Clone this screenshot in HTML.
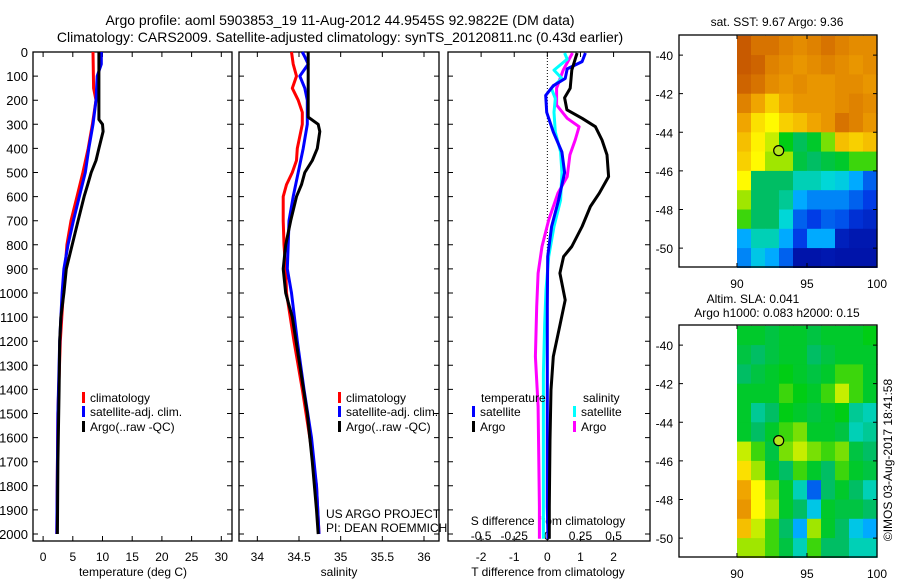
<!DOCTYPE html>
<html><head><meta charset="utf-8"><style>
html,body{margin:0;padding:0;background:#fff;}
svg{display:block;font-family:"Liberation Sans",sans-serif;}
</style></head><body>
<svg id="fig" width="900" height="580" viewBox="0 0 900 580" xmlns="http://www.w3.org/2000/svg">
<text x="340" y="25" font-size="14" text-anchor="middle">Argo profile: aoml 5903853_19 11-Aug-2012 44.9545S 92.9822E (DM data)</text>
<text x="340" y="42" font-size="14" text-anchor="middle">Climatology: CARS2009. Satellite-adjusted climatology: synTS_20120811.nc (0.43d earlier)</text>
<text x="777" y="26" font-size="12" text-anchor="middle">sat. SST: 9.67 Argo: 9.36</text>
<text x="753" y="303" font-size="12" text-anchor="middle">Altim. SLA: 0.041</text>
<text x="777" y="317" font-size="12" text-anchor="middle">Argo h1000: 0.083 h2000: 0.15</text>
<text transform="translate(892,460) rotate(-90)" font-size="12" text-anchor="middle">©IMOS 03-Aug-2017 18:41:58</text>
<text x="326" y="518" font-size="12">US ARGO PROJECT</text>
<text x="326" y="532" font-size="12">PI: DEAN ROEMMICH</text>
<text x="133" y="576" font-size="12" text-anchor="middle">temperature (deg C)</text>
<text x="339" y="576" font-size="12" text-anchor="middle">salinity</text>
<text x="548" y="576" font-size="12" text-anchor="middle">T difference from climatology</text>
<text x="548" y="525" font-size="12" text-anchor="middle">S difference from climatology</text>
</svg>
<script>
// ---- data ----
const depthTicks=[0,100,200,300,400,500,600,700,800,900,1000,1100,1200,1300,1400,1500,1600,1700,1800,1900,2000];
const tempTicks=[0,5,10,15,20,25,30];
const salTicks=[34,34.5,35,35.5,36];
const salTickLabels=["34","34.5","35","35.5","36"];
const tdTicks=[-2,-1,0,1,2];
const sdTicks=[-0.5,-0.25,0,0.25,0.5];
const sdTickLabels=["-0.5","-0.25","0","0.25","0.5"];
const lonTicks=[90,95,100];
const latTicks=[-40,-42,-44,-46,-48,-50];

const tArgoD=[0,280,300,330,400,450,500,550,600,700,800,900,1000,1100,1200,1400,1700,2000];
const tArgoV=[9.4,9.4,10.0,10.1,9.4,8.9,8.1,7.5,6.9,5.9,4.9,3.9,3.5,3.0,2.8,2.7,2.5,2.4];
const tClimD=[0,150,200,300,400,500,600,700,800,900,1000,1200,1500,2000];
const tClimV=[8.4,8.5,8.9,8.3,7.6,6.7,5.7,4.7,4.0,3.7,3.4,2.9,2.5,2.3];
const tSatD=[0,50,100,200,300,400,500,600,700,800,900,1000,1200,1500,2000];
const tSatV=[9.8,9.8,9.1,8.9,8.4,7.7,7.1,6.1,5.1,4.2,3.5,3.2,2.8,2.5,2.3];

const sArgoD=[0,270,300,330,400,450,500,550,600,700,800,900,1000,1100,1300,1500,1700,1900,2000];
const sArgoV=[34.61,34.61,34.73,34.75,34.72,34.66,34.57,34.53,34.47,34.40,34.34,34.31,34.34,34.42,34.51,34.60,34.66,34.71,34.73];
const sClimD=[0,50,100,150,200,250,300,400,450,500,550,600,700,800,900,1000,1200,1400,1600,1800,2000];
const sClimV=[34.41,34.43,34.47,34.42,34.49,34.54,34.54,34.48,34.47,34.42,34.35,34.31,34.31,34.32,34.34,34.35,34.44,34.54,34.63,34.71,34.74];
const sSatD=[0,20,50,100,150,200,300,400,500,600,700,800,900,1000,1200,1400,1600,1800,2000];
const sSatV=[34.54,34.57,34.61,34.51,34.57,34.60,34.60,34.55,34.49,34.43,34.38,34.37,34.36,34.41,34.48,34.56,34.65,34.71,34.74];

const dTArgoD=[4,75,150,190,240,275,310,365,427,517,586,641,724,807,849,918,1029,1126,1264,1402,1610,1886,2020];
const dTArgoV=[0.9,0.74,0.69,0.52,0.59,1.05,1.45,1.65,1.8,1.85,1.57,1.30,1.05,0.74,0.49,0.38,0.54,0.39,0.18,0.11,0.08,0.06,0.06];
const dTSatD=[4,40,70,110,140,180,250,332,415,500,614,724,849,1057,1333,1886,2020];
const dTSatV=[1.15,1.05,0.6,0.54,0.18,-0.05,-0.02,0.18,0.44,0.52,0.34,0.13,0.01,0,0,0,0.02];
const dSSatD=[4,30,75,110,150,193,250,332,415,500,614,724,849,987,1126,1333,1610,1886,2020];
const dSSatV=[0.13,0.15,0.05,0.11,0.03,0.06,0.05,0.06,0.10,0.11,0.10,0.05,0.01,-0.01,-0.02,-0.03,-0.03,-0.03,-0.03];
const dSArgoD=[4,75,150,220,275,310,365,427,517,586,697,807,918,1057,1264,1470,1886,2020];
const dSArgoV=[0.19,0.12,0.07,0.07,0.15,0.24,0.21,0.17,0.15,0.08,0.01,-0.04,-0.07,-0.08,-0.09,-0.07,-0.06,-0.06];

const sstGrid=[
[0.9,0.85,0.85,0.82,0.8,0.82,0.85,0.82,0.8,0.8],
[0.9,0.88,0.82,0.8,0.78,0.8,0.82,0.8,0.78,0.8],
[0.88,0.85,0.8,0.78,0.8,0.78,0.78,0.8,0.8,0.78],
[0.82,0.75,0.7,0.75,0.78,0.78,0.78,0.8,0.82,0.8],
[0.75,0.68,0.65,0.7,0.72,0.75,0.78,0.85,0.82,0.78],
[0.72,0.66,0.62,0.52,0.46,0.5,0.58,0.72,0.7,0.72],
[0.7,0.65,0.6,0.6,0.48,0.45,0.48,0.5,0.55,0.55],
[0.65,0.45,0.45,0.45,0.4,0.4,0.38,0.36,0.3,0.2],
[0.6,0.45,0.45,0.42,0.3,0.25,0.25,0.25,0.2,0.15],
[0.55,0.45,0.45,0.38,0.2,0.15,0.2,0.18,0.12,0.1],
[0.3,0.4,0.4,0.3,0.15,0.3,0.3,0.08,0.06,0.06],
[0.25,0.35,0.3,0.2,0.05,0.05,0.06,0.05,0.05,0.05]];
const slaGrid=[
[0.5,0.5,0.48,0.5,0.5,0.48,0.5,0.5,0.5,0.52],
[0.48,0.45,0.48,0.5,0.5,0.45,0.48,0.5,0.5,0.5],
[0.45,0.48,0.5,0.52,0.5,0.48,0.5,0.55,0.55,0.5],
[0.5,0.5,0.5,0.55,0.52,0.5,0.55,0.62,0.55,0.5],
[0.5,0.42,0.45,0.52,0.5,0.48,0.5,0.52,0.42,0.4],
[0.5,0.45,0.5,0.55,0.58,0.5,0.5,0.48,0.4,0.42],
[0.62,0.55,0.48,0.58,0.62,0.58,0.55,0.58,0.48,0.45],
[0.68,0.6,0.5,0.45,0.55,0.5,0.45,0.55,0.5,0.48],
[0.75,0.65,0.58,0.5,0.4,0.2,0.45,0.5,0.45,0.4],
[0.78,0.65,0.6,0.5,0.45,0.35,0.5,0.48,0.48,0.45],
[0.72,0.62,0.55,0.45,0.3,0.6,0.5,0.45,0.35,0.3],
[0.6,0.6,0.55,0.48,0.4,0.55,0.45,0.45,0.4,0.4]];
const gridLat0=-39, gridLon0=90;
const floatLon=92.98, floatLat=-44.95;

// ---- helpers ----
const NS="http://www.w3.org/2000/svg";
const svg=document.getElementById('fig');
function mk(tag,attrs,parent){const e=document.createElementNS(NS,tag);for(const k in attrs)e.setAttribute(k,attrs[k]);(parent||svg).appendChild(e);return e;}
const yTop=52, yBot=541, dMax=2029;
function yD(d){return yTop+d*(yBot-yTop)/dMax;}
function lin(d0,d1,r0,r1){return v=>r0+(v-d0)*(r1-r0)/(d1-d0);}
const xT=lin(-1.7,31.8,33,232);
const xS=lin(33.78,36.18,239,439);
const xTD=lin(-3,3.1,448,650);
const xSD=v=>xTD(v*4);

function panel(name,x0,x1,xs,ticks,labels,showDepth){
  const r=mk('rect',{x:x0,y:yTop,width:x1-x0,height:yBot-yTop,fill:'none',stroke:'#000','stroke-width':1.3});
  
  
  depthTicks.forEach(d=>{
    const t=mk('path',{d:`M${x0},${yD(d)}h5M${x1},${yD(d)}h-5`,stroke:'#000','stroke-width':1});
    
    
    if(showDepth){
      const l=mk('text',{x:x0-5,y:yD(d)+5,'font-size':13,'text-anchor':'end'});
      l.textContent=d;
      
      
    }
  });
  if(xs){ticks.forEach((v,i)=>{
    const t=mk('path',{d:`M${xs(v)},${yBot}v-5M${xs(v)},${yTop}v5`,stroke:'#000','stroke-width':1});
    
    
    const l=mk('text',{x:xs(v),y:561,'font-size':12,'text-anchor':'middle'});
    l.textContent=labels[i];
    
    
  });}
}
panel('temp-panel',33,232,xT,tempTicks,tempTicks.map(String),true);
panel('sal-panel',239,439,xS,salTicks,salTickLabels,false);
panel('diff-panel',448,650,xTD,tdTicks,tdTicks.map(String),false);
sdTicks.forEach((v,i)=>{
  const l=mk('text',{x:xSD(v),y:540,'font-size':12,'text-anchor':'middle'});
  l.textContent=sdTickLabels[i];
  
  
});
const zl=mk('line',{x1:xTD(0),x2:xTD(0),y1:yTop,y2:yBot,stroke:'#000','stroke-width':1,'stroke-dasharray':'1,2'});



function line(D,V,xs,col,name){
  const pts=D.map((d,i)=>xs(V[i]).toFixed(1)+','+yD(Math.min(d,dMax-3)).toFixed(1)).join(' ');
  const p=mk('polyline',{points:pts,fill:'none',stroke:col,'stroke-width':3,'stroke-linejoin':'round'});
  
  
}
line(tClimD,tClimV,xT,'#f00','temp-climatology-line');
line(tSatD,tSatV,xT,'#00f','temp-satellite-line');
line(tArgoD,tArgoV,xT,'#000','temp-argo-line');
line(sClimD,sClimV,xS,'#f00','sal-climatology-line');
line(sSatD,sSatV,xS,'#00f','sal-satellite-line');
line(sArgoD,sArgoV,xS,'#000','sal-argo-line');
line(dSArgoD,dSArgoV,xSD,'#f0f','sdiff-argo-line');
line(dSSatD,dSSatV,xSD,'#0ff','sdiff-satellite-line');
line(dTSatD,dTSatV,xTD,'#00f','tdiff-satellite-line');
line(dTArgoD,dTArgoV,xTD,'#000','tdiff-argo-line');

function legend(x,y,col,txt,name){
  const m=mk('rect',{x:x,y:y-10,width:3,height:11,fill:col});
  
  
  const t=mk('text',{x:x+8,y:y,'font-size':12});
  t.textContent=txt;
  
  
}
legend(82,402,'#f00','climatology','temp-legend-climatology');
legend(82,416,'#00f','satellite-adj. clim.','temp-legend-satellite');
legend(82,431,'#000','Argo(..raw -QC)','temp-legend-argo');
legend(338,402,'#f00','climatology','sal-legend-climatology');
legend(338,416,'#00f','satellite-adj. clim.','sal-legend-satellite');
legend(338,431,'#000','Argo(..raw -QC)','sal-legend-argo');
legend(472,416,'#00f','satellite','diff-legend-t-satellite');
legend(472,431,'#000','Argo','diff-legend-t-argo');
legend(573,416,'#0ff','satellite','diff-legend-s-satellite');
legend(573,431,'#f0f','Argo','diff-legend-s-argo');
const lt=mk('text',{x:481,y:402,'font-size':12});lt.textContent='temperature';


const ls=mk('text',{x:583,y:402,'font-size':12});ls.textContent='salinity';



const cmapStops=[[0,[0,0,140]],[0.15,[0,60,230]],[0.3,[0,170,255]],[0.38,[0,215,215]],[0.45,[0,190,100]],[0.52,[0,205,20]],[0.6,[160,230,0]],[0.65,[255,250,0]],[0.75,[240,165,0]],[0.85,[215,115,0]],[1,[170,40,0]]];
function cmap(v){
  v=Math.max(0,Math.min(1,v));
  for(let i=1;i<cmapStops.length;i++){
    const [a,ca]=cmapStops[i-1],[b,cb]=cmapStops[i];
    if(v<=b){const t=(v-a)/(b-a);return 'rgb('+ca.map((c,k)=>Math.round(c+(cb[k]-c)*t)).join(',')+')';}
  }
  return 'rgb(170,40,0)';
}
function map(name,y0,grid){
  const X0=679,X1=877,Y0=y0,Y1=y0+232;
  const xl=lin(85.86,100,X0,X1), yl=lin(-38.96,-50.98,Y0,Y1);
  grid.forEach((row,i)=>row.forEach((v,j)=>{
    const c=mk('rect',{x:xl(gridLon0+j).toFixed(1),y:yl(gridLat0-i).toFixed(1),width:(xl(1)-xl(0)+0.6).toFixed(1),height:(yl(-1)-yl(0)+0.6).toFixed(1),fill:cmap(v)});
    
    
  }));
  const f=mk('rect',{x:X0,y:Y0,width:X1-X0,height:Y1-Y0,fill:'none',stroke:'#000','stroke-width':1.3});
  
  
  lonTicks.forEach(v=>{
    const t=mk('path',{d:`M${xl(v)},${Y1}v-4M${xl(v)},${Y0}v4`,stroke:'#000'});
    
    
    const l=mk('text',{x:xl(v),y:Y1+21,'font-size':12,'text-anchor':'middle'});l.textContent=v;
    
    
  });
  latTicks.forEach(v=>{
    const t=mk('path',{d:`M${X0},${yl(v)}h4M${X1},${yl(v)}h-4`,stroke:'#000'});
    
    
    const l=mk('text',{x:X0-6,y:yl(v)+5,'font-size':12,'text-anchor':'end'});l.textContent=v;
    
    
  });
  const c=mk('circle',{cx:xl(floatLon),cy:yl(floatLat),r:5,fill:'#b4e61e',stroke:'#000','stroke-width':1.2});
  
  
}
map('sst-map',35,sstGrid);
map('sla-map',325,slaGrid);
</script>
</body></html>
